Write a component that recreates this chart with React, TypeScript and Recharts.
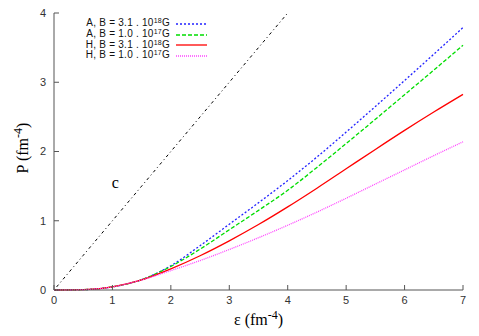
import React from 'react';
import { LineChart, Line, XAxis, YAxis, ReferenceDot } from 'recharts';

// energy density (fm^-4)
const eps = [0, 0.5, 1, 1.5, 2, 2.5, 3, 3.5, 4, 4.5, 5, 5.5, 6, 6.5, 7];
// pressure (fm^-4) for each EoS
const aHigh = [0, 0.005, 0.045, 0.15, 0.35, 0.64, 0.95, 1.26, 1.58, 1.92, 2.28, 2.65, 3.025, 3.405, 3.79];
const aLow = [0, 0.005, 0.045, 0.15, 0.34, 0.59, 0.87, 1.15, 1.44, 1.77, 2.115, 2.465, 2.82, 3.175, 3.535];
const hHigh = [0, 0.005, 0.045, 0.145, 0.305, 0.495, 0.71, 0.945, 1.2, 1.47, 1.75, 2.03, 2.305, 2.57, 2.825];
const hLow = [0, 0.005, 0.045, 0.145, 0.28, 0.425, 0.585, 0.755, 0.935, 1.125, 1.325, 1.53, 1.735, 1.94, 2.14];
// causal limit P = eps, drawn up to the top of the frame
const causal = [0, 0.5, 1, 1.5, 2, 2.5, 3, 3.5, 4];

const xTicks = [0, 1, 2, 3, 4, 5, 6, 7];
const yTicks = [0, 1, 2, 3, 4];

const series = [
  { key: 'aHigh', color: '#2222ff', dash: '2 2', label: 'A, B = 3.1 . 10', exp: '18' },
  { key: 'aLow', color: '#00dd00', dash: '4 2', label: 'A, B = 1.0 . 10', exp: '17' },
  { key: 'hHigh', color: '#ff0000', dash: undefined, label: 'H, B = 3.1 . 10', exp: '18' },
  { key: 'hLow', color: '#ff44ff', dash: '1 1', label: 'H, B = 1.0 . 10', exp: '17' },
];

const data = eps.map((e, i) => ({
  eps: e,
  aHigh: aHigh[i],
  aLow: aLow[i],
  hHigh: hHigh[i],
  hLow: hLow[i],
  c: i < causal.length ? causal[i] : undefined,
}));

const axisColor = '#555';
const sans = 'Liberation Sans, Arial, sans-serif';
const tickFont = { fontFamily: sans, fontSize: 11, fill: '#333' };
const serif = 'Liberation Serif, Times New Roman, serif';

const XTitle = (props: any) => {
  const vb = props.viewBox;
  return (
    <text x={vb.x + vb.width / 2} y={325} textAnchor="middle" fontFamily={serif} fontSize={16} fill="#000">
      ε (fm<tspan dy={-6} fontSize={12}>-4</tspan><tspan dy={6}>)</tspan>
    </text>
  );
};

const YTitle = () => {
  const cy = 148;
  return (
    <text x={28} y={cy} transform={`rotate(-90 28 ${cy})`} textAnchor="middle" fontFamily={serif} fontSize={16} fill="#000">
      P (fm<tspan dy={-6} fontSize={12}>-4</tspan><tspan dy={6}>)</tspan>
    </text>
  );
};

const noTick = () => <g />;

export default function App() {
  return (
    <div style={{ position: 'absolute', left: 0, top: 0, width: 479, height: 336, background: '#fff' }}>
      <LineChart width={479} height={336} data={data} margin={{ top: 13, right: 16, bottom: 0, left: 0 }}>
        <XAxis
          dataKey="eps"
          type="number"
          domain={[0, 7]}
          ticks={xTicks}
          tick={tickFont}
          tickSize={-5}
          tickMargin={11}
          height={46}
          stroke={axisColor}
          tickLine={{ stroke: axisColor }}
          label={<XTitle />}
        />
        <XAxis
          xAxisId="top"
          orientation="top"
          dataKey="eps"
          type="number"
          domain={[0, 7]}
          ticks={xTicks}
          tick={noTick}
          tickSize={-5}
          height={0}
          stroke={axisColor}
        />
        <YAxis
          type="number"
          domain={[0, 4]}
          ticks={yTicks}
          tick={tickFont}
          tickSize={-5}
          tickMargin={13}
          width={54}
          stroke={axisColor}
          label={<YTitle />}
        />
        <YAxis
          yAxisId="right"
          orientation="right"
          type="number"
          domain={[0, 4]}
          ticks={yTicks}
          tick={noTick}
          tickSize={-5}
          width={0}
          stroke={axisColor}
        />
        <Line
          dataKey="c"
          stroke="#000"
          strokeWidth={1}
          strokeDasharray="1 3 3 3"
          dot={false}
          connectNulls={false}
          isAnimationActive={false}
        />
        {series.map((s) => (
          <Line
            key={s.key}
            type="monotone"
            dataKey={s.key}
            stroke={s.color}
            strokeWidth={1.3}
            strokeDasharray={s.dash}
            dot={false}
            isAnimationActive={false}
          />
        ))}
        <ReferenceDot
          x={1.05}
          y={1.55}
          r={0}
          stroke="none"
          fill="none"
          label={{ value: 'c', position: 'center', fontFamily: serif, fontSize: 16, fill: '#000' }}
        />
      </LineChart>
      <div
        style={{
          position: 'absolute',
          left: 60,
          top: 18.5,
          fontFamily: sans,
          fontSize: 10,
          letterSpacing: 0.25,
          color: '#111',
        }}
      >
        {series.map((s) => (
          <div key={s.key} style={{ display: 'flex', alignItems: 'center', height: 10.7 }}>
            <span style={{ width: 110, textAlign: 'right', whiteSpace: 'nowrap', lineHeight: '10px' }}>
              {s.label}
              <span style={{ fontSize: 7, position: 'relative', top: -3 }}>{s.exp}</span>G
            </span>
            <svg width={32} height={6} style={{ marginLeft: 6 }}>
              <line x1={0} y1={3} x2={31} y2={3} stroke={s.color} strokeWidth={1.3} strokeDasharray={s.dash} />
            </svg>
          </div>
        ))}
      </div>
    </div>
  );
}
